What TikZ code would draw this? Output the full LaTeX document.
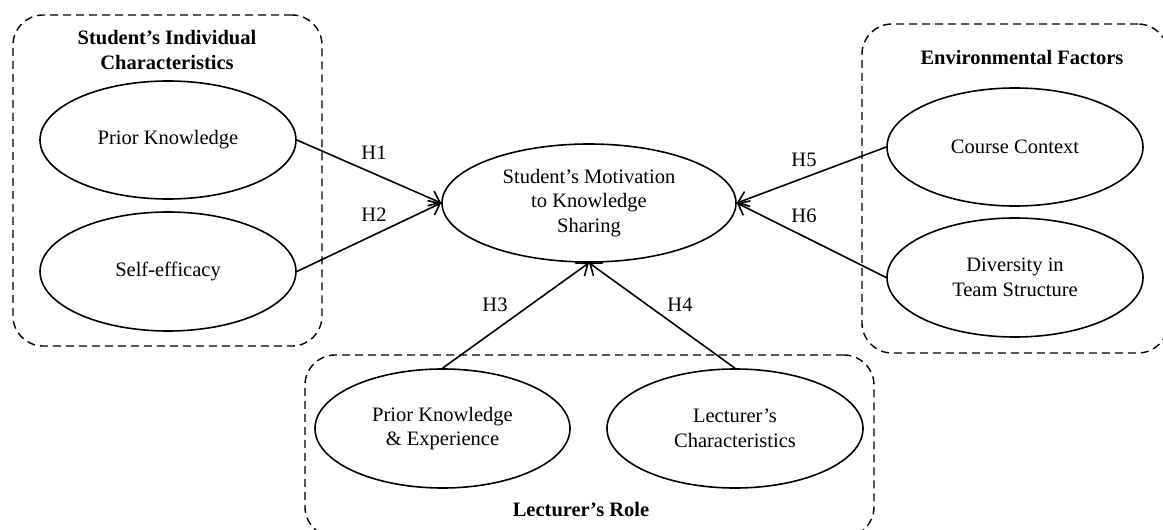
\documentclass[tikz,border=0pt]{standalone}
\usepackage{fontspec}
\setmainfont{Liberation Serif}
\usetikzlibrary{shapes.geometric,arrows.meta}
\tikzset{
  construct/.style={draw, line width=1.6pt, ellipse, inner sep=0pt, align=center,
    font=\fontsize{20.5}{24.5}\selectfont},
  group/.style={draw, line width=1.4pt, dash pattern=on 8pt off 5pt, rounded corners=30pt,
    rectangle, inner sep=0pt},
  grouptitle/.style={align=center, font=\fontsize{20.5}{24.5}\selectfont\bfseries},
  hyp/.style={font=\fontsize{20.5}{24.5}\selectfont},
  link/.style={line width=1.6pt, -{Straight Barb[length=10pt,width=16pt,line width=1.6pt]}}
}
\begin{document}
\begin{tikzpicture}[x=1pt,y=-1pt]
\useasboundingbox (0,0) rectangle (1163,530);
% groups
\node[group, minimum width=309pt, minimum height=331pt] (gs) at (167.5,180.5) {};
\node[group, minimum width=306pt, minimum height=329pt] (ge) at (1015,188.5) {};
\node[group, minimum width=569pt, minimum height=182pt] (gl) at (589.5,446) {};
\node[grouptitle] (ts) at (167,50) {Student’s Individual\\Characteristics};
\node[grouptitle] (te) at (1022,57) {Environmental Factors};
\node[grouptitle] (tl) at (581,510) {Lecturer’s Role};
% constructs
\node[construct, minimum width=256pt, minimum height=118pt] (pk) at (168,140) {Prior Knowledge};
\node[construct, minimum width=256pt, minimum height=119pt] (se) at (168,271.5) {Self-efficacy};
\node[construct, minimum width=294pt, minimum height=118pt] (mot) at (589,203) {Student’s Motivation\\to Knowledge\\Sharing};
\node[construct, minimum width=256pt, minimum height=118pt] (cc) at (1015,147) {Course Context};
\node[construct, minimum width=256pt, minimum height=119pt] (dv) at (1015,277.5) {Diversity in\\Team Structure};
\node[construct, minimum width=255pt, minimum height=119pt] (pke) at (442.5,428.5) {Prior Knowledge\\\& Experience};
\node[construct, minimum width=256pt, minimum height=119pt] (lc) at (735,428.5) {Lecturer’s\\Characteristics};
% links
\draw[link] (pk.east) -- (mot.west);
\draw[link] (se.east) -- (mot.west);
\draw[link] (cc.west) -- (mot.east);
\draw[link] (dv.west) -- (mot.east);
\draw[link] (pke.north) -- (mot.south);
\draw[link] (lc.north) -- (mot.south);
% labels
\node[hyp] (h1) at (374,153) {H1};
\node[hyp] (h2) at (374,215) {H2};
\node[hyp] (h5) at (804,160) {H5};
\node[hyp] (h6) at (804,216) {H6};
\node[hyp] (h3) at (495,305) {H3};
\node[hyp] (h4) at (680,305) {H4};
\end{tikzpicture}
\end{document}
